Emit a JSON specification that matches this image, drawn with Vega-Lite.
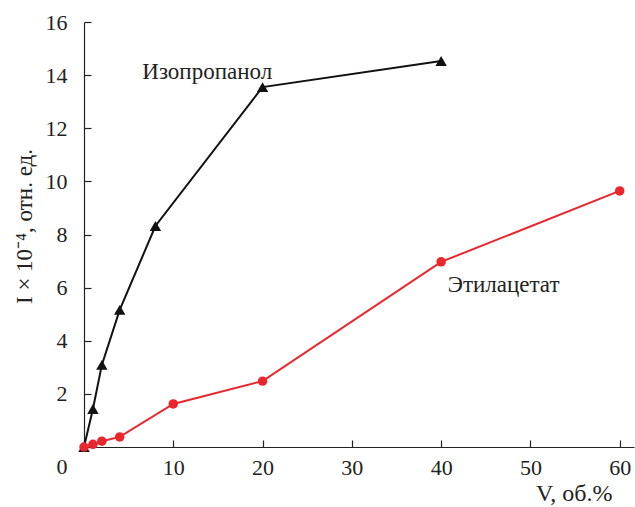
{
  "$schema": "https://vega.github.io/schema/vega-lite/v6.json",
  "autosize": "none",
  "width": 550,
  "height": 425,
  "padding": {"left": 84, "top": 22, "right": 1, "bottom": 60},
  "background": "white",
  "config": {
    "view": {"stroke": null},
    "font": "Liberation Serif",
    "axis": {
      "grid": false,
      "domainColor": "#222",
      "domainWidth": 1.2,
      "tickColor": "#222",
      "tickWidth": 1.2,
      "tickSize": -7,
      "labelFont": "Liberation Serif",
      "labelFontSize": 22,
      "labelColor": "#222",
      "titleFont": "Liberation Serif",
      "titleFontSize": 22,
      "titleFontWeight": "normal",
      "titleColor": "#222"
    }
  },
  "datasets": {
    "series": [
      {"V": 0, "I": 0, "solvent": "Изопропанол"},
      {"V": 1, "I": 1.43, "solvent": "Изопропанол"},
      {"V": 2, "I": 3.09, "solvent": "Изопропанол"},
      {"V": 4, "I": 5.16, "solvent": "Изопропанол"},
      {"V": 8, "I": 8.32, "solvent": "Изопропанол"},
      {"V": 20, "I": 13.55, "solvent": "Изопропанол"},
      {"V": 40, "I": 14.53, "solvent": "Изопропанол"},
      {"V": 0, "I": 0, "solvent": "Этилацетат"},
      {"V": 1, "I": 0.1, "solvent": "Этилацетат"},
      {"V": 2, "I": 0.22, "solvent": "Этилацетат"},
      {"V": 4, "I": 0.38, "solvent": "Этилацетат"},
      {"V": 10, "I": 1.62, "solvent": "Этилацетат"},
      {"V": 20, "I": 2.48, "solvent": "Этилацетат"},
      {"V": 40, "I": 6.97, "solvent": "Этилацетат"},
      {"V": 60, "I": 9.64, "solvent": "Этилацетат"}
    ],
    "labels": [
      {"V": 13.8, "I": 14.1, "text": "Изопропанол"},
      {"V": 47.0, "I": 6.1, "text": "Этилацетат"}
    ]
  },
  "layer": [
    {
      "data": {"name": "series"},
      "mark": {"type": "line", "strokeWidth": 2},
      "encoding": {
        "x": {
          "field": "V", "type": "quantitative",
          "scale": {"domain": [0, 61.6], "nice": false, "zero": false},
          "axis": {
            "values": [0, 10, 20, 30, 40, 50, 60],
            "labelExpr": "datum.value === 0 ? '' : datum.label",
            "labelPadding": 17,
            "title": "V, об.%",
            "titleFontSize": 24,
            "titleAlign": "right",
            "titleBaseline": "middle",
            "titleX": 528,
            "titleY": 46
          }
        },
        "y": {
          "field": "I", "type": "quantitative",
          "scale": {"domain": [0, 16], "nice": false},
          "axis": {
            "values": [0, 2, 4, 6, 8, 10, 12, 14, 16],
            "labelPadding": 24,
            "labelOffset": {"condition": {"test": "datum.value === 0", "value": 19}, "value": 0},
            "title": "I  ×  10⁻⁴,  отн. ед.",
            "titleFontSize": 23,
            "titleAlign": "center",
            "titleBaseline": "middle",
            "titleAngle": -90,
            "titleX": -60,
            "titleY": 204
          }
        },
        "color": {
          "field": "solvent", "type": "nominal",
          "scale": {"domain": ["Изопропанол", "Этилацетат"], "range": ["#111111", "#e8262b"]},
          "legend": null
        }
      }
    },
    {
      "data": {"name": "series"},
      "mark": {"type": "point", "filled": true, "opacity": 1},
      "encoding": {
        "x": {"field": "V", "type": "quantitative"},
        "y": {"field": "I", "type": "quantitative"},
        "color": {"field": "solvent", "type": "nominal", "legend": null},
        "shape": {
          "field": "solvent", "type": "nominal",
          "scale": {"domain": ["Изопропанол", "Этилацетат"], "range": ["triangle-up", "circle"]},
          "legend": null
        },
        "size": {
          "field": "solvent", "type": "nominal",
          "scale": {"domain": ["Изопропанол", "Этилацетат"], "range": [130, 90]},
          "legend": null
        }
      }
    },
    {
      "data": {"name": "labels"},
      "mark": {"type": "text", "font": "Liberation Serif", "fontSize": 23, "color": "#222", "align": "center", "baseline": "middle"},
      "encoding": {
        "x": {"field": "V", "type": "quantitative"},
        "y": {"field": "I", "type": "quantitative"},
        "text": {"field": "text"}
      }
    }
  ]
}
